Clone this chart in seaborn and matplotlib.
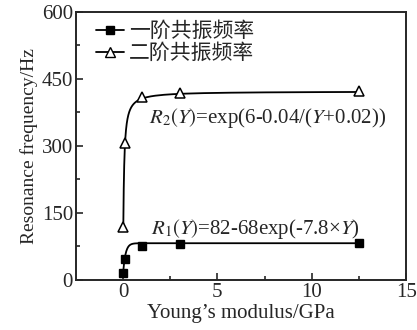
import numpy as np
import pandas as pd
import matplotlib
matplotlib.use("Agg")
import matplotlib.pyplot as plt
from matplotlib.lines import Line2D
import seaborn as sns

modulus = [0.01, 0.1, 1, 3, 12.5]
freq_1 = [16, 47, 75, 80, 82]
freq_2 = [119, 306, 410, 418, 422]

# coefficients of the drawn fit curves (printed rounded on the chart)
r1_coef = [82, 68, 7.8]
r2_coef = [6.045, 0.04, 0.02]

labels = ["一阶共振频率", "二阶共振频率"]

sns.set_style("ticks")
plt.rcParams["font.family"] = ["Liberation Serif", "Noto Sans CJK SC"]
plt.rcParams["mathtext.fontset"] = "stix"
plt.rcParams["xtick.direction"] = "in"
plt.rcParams["ytick.direction"] = "in"

y_fit = np.concatenate([np.linspace(0.01, 1, 200), np.linspace(1, 12.5, 50)])
fit = pd.DataFrame({
    "Y": y_fit,
    "R1": r1_coef[0] - r1_coef[1] * np.exp(-r1_coef[2] * y_fit),
    "R2": np.exp(r2_coef[0] - r2_coef[1] / (y_fit + r2_coef[2])),
})
pts = pd.DataFrame({"Y": modulus, "f1": freq_1, "f2": freq_2})

fig = plt.figure(figsize=(4.17, 3.30), dpi=100)
ax = fig.add_axes([0.182, 0.152, 0.792, 0.812])

sns.lineplot(data=fit, x="Y", y="R1", color="black", lw=1.3, ax=ax)
sns.lineplot(data=fit, x="Y", y="R2", color="black", lw=1.3, ax=ax)
ax.plot(pts["Y"], pts["f1"], ls="none", marker="s", ms=5.5, color="black")
ax.plot(pts["Y"], pts["f2"], ls="none", marker="^", ms=6.5, mfc="white",
        mec="black", mew=1.1)

ax.set_xlim(-2.5, 15)
ax.set_ylim(0, 600)
ax.set_xticks([0, 5, 10, 15])
ax.set_xticks([2.5, 7.5, 12.5], minor=True)
ax.set_yticks([0, 150, 300, 450, 600])
ax.set_yticks([75, 225, 375, 525], minor=True)
ax.tick_params(labelsize=15, length=5, width=1.2, pad=2)
ax.tick_params(which="minor", length=3, width=1.2)
for s in ax.spines.values():
    s.set_linewidth(1.4)

ax.set_xlabel("Young’s modulus/GPa", fontsize=15, labelpad=2)
ax.set_ylabel("Resonance frequency/Hz", fontsize=14, labelpad=3)

ax.text(1.39, 352, r"$R_2(Y)$=exp(6-0.04/($Y$+0.02))", fontsize=15)
ax.text(1.5, 103, r"$R_1(Y)$=82-68exp(-7.8×$Y$)", fontsize=15)

handles = [
    Line2D([], [], color="black", lw=1.3, marker="s", ms=5.5),
    Line2D([], [], color="black", lw=1.3, marker="^", ms=6.5, mfc="white"),
]
ax.legend(handles, labels, loc="upper left", frameon=False,
          prop={"family": "Noto Sans CJK SC", "size": 15},
          handlelength=1.35, handletextpad=0.25, labelspacing=0.0,
          borderaxespad=0.0, borderpad=0.0, bbox_to_anchor=(0.06, 0.97))

fig.savefig("out.png", dpi=100)
